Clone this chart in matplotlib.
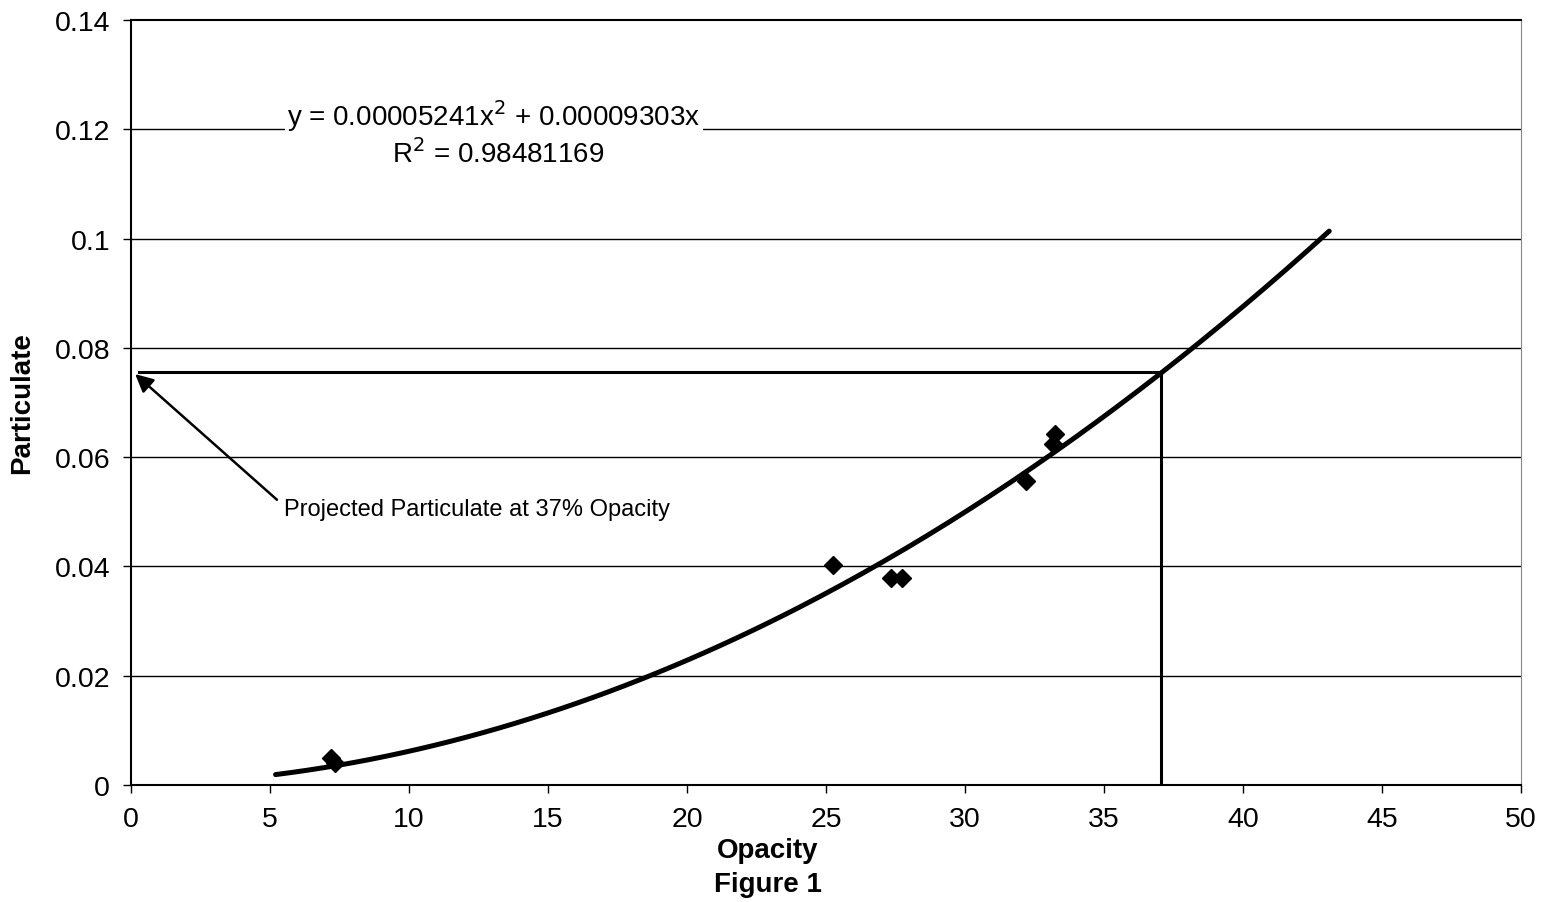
import matplotlib.pyplot as plt
import numpy as np

plt.rcParams["font.family"] = ["Liberation Sans", "DejaVu Sans"]

################################################################
##### data

opacity = [7.2, 7.35, 25.25, 27.35, 27.75, 32.2, 33.15, 33.25]
particulate = [0.0049, 0.0041, 0.0403, 0.0379, 0.0379, 0.0556, 0.0624, 0.0642]

# trendline coefficients printed on the chart
coef_a = 0.00005241
coef_b = 0.00009303
fit_range = [5.2, 43.1]

target_opacity = 37.05
target_particulate = 0.0755

x_ticks = [0, 5, 10, 15, 20, 25, 30, 35, 40, 45, 50]
y_ticks = [0, 0.02, 0.04, 0.06, 0.08, 0.1, 0.12, 0.14]
y_tick_labels = ["0", "0.02", "0.04", "0.06", "0.08", "0.1", "0.12", "0.14"]

################################################################

fig = plt.figure(figsize=(15.54, 9.03), dpi=100)
ax = fig.add_axes([0.0843, 0.1296, 0.8945, 0.8471])

# horizontal gridlines
for yv in y_ticks[1:-1]:
    ax.axhline(yv, color="black", lw=1.0, zorder=1)

# fitted trendline
xs = np.linspace(fit_range[0], fit_range[1], 200)
ax.plot(xs, coef_a * xs**2 + coef_b * xs, color="black", lw=3.6,
        solid_capstyle="round", zorder=3)

ax.plot(opacity, particulate, ls="none", marker="D", ms=9, color="black", zorder=4)

# projection lines at 37% opacity
ax.plot([0.3, target_opacity], [target_particulate, target_particulate],
        color="black", lw=2.2, zorder=3)
ax.plot([target_opacity, target_opacity], [0, target_particulate],
        color="black", lw=2.2, zorder=3)

ax.annotate("", xy=(0.15, 0.0752), xytext=(5.25, 0.0522),
            arrowprops=dict(arrowstyle="-|>", color="black", lw=1.8,
                            mutation_scale=27, shrinkA=0, shrinkB=0), zorder=3)
ax.text(5.5, 0.0505, "Projected Particulate at 37% Opacity", fontsize=17,
        ha="left", va="center")

ax.text(13.06, 0.1226, "y = 0.00005241x$^2$ + 0.00009303x", fontsize=20,
        ha="center", va="center", zorder=5,
        bbox=dict(facecolor="white", edgecolor="none", pad=2))
ax.text(13.2, 0.1157, "R$^2$ = 0.98481169", fontsize=20, ha="center", va="center",
        zorder=5)

ax.set_xlim(0, 50)
ax.set_ylim(0, 0.14)
ax.set_xticks(x_ticks)
ax.set_yticks(y_ticks)
ax.set_yticklabels(y_tick_labels)
ax.tick_params(axis="both", labelsize=20.5, direction="out", length=6, width=1, pad=9)

ax.spines["right"].set_color("#888888")
for side in ["left", "bottom", "top"]:
    ax.spines[side].set_linewidth(1.5)

ax.set_ylabel("Particulate", fontsize=20, fontweight="bold", labelpad=14)
fig.text(0.494, 0.058, "Opacity", fontsize=20, fontweight="bold", ha="center", va="center")
fig.text(0.494, 0.020, "Figure 1", fontsize=20, fontweight="bold", ha="center", va="center")

fig.savefig("out.png", dpi=100)
